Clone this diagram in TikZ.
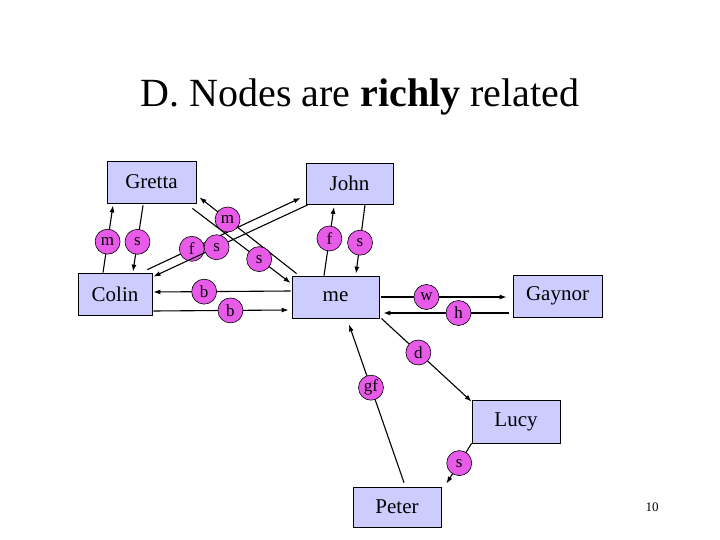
\documentclass[tikz,border=0pt]{standalone}
\usepackage{fontspec}
\setmainfont{Liberation Serif}
\usetikzlibrary{calc,arrows.meta}
\definecolor{boxfill}{RGB}{204,204,255}
\definecolor{labfill}{RGB}{232,90,232}
\begin{document}
\begin{tikzpicture}[x=1pt,y=-1pt,
  person/.style={draw,fill=boxfill,line width=0.8pt,inner sep=0pt,font=\fontsize{21}{21}\selectfont},
  lab/.style={circle,draw,fill=labfill,line width=0.6pt,inner sep=0pt,minimum size=25pt,font=\fontsize{17}{17}\selectfont},
  rel/.style={line width=1.1pt,-{Latex[length=7pt,width=5pt]}}]
\useasboundingbox (0,0) rectangle (720,540);
\node at (360,97) {\fontsize{40}{40}\selectfont D. Nodes are \textbf{richly} related};
\node[font=\fontsize{13}{13}\selectfont] at (652,507) {10};

\node[person,minimum width=89pt,minimum height=42pt] (gretta) at (151.5,182) {Gretta};
\node[person,minimum width=87pt,minimum height=41pt] (john) at (349.5,183.5) {John};
\node[person,minimum width=74pt,minimum height=42pt] (colin) at (115,294) {Colin};
\node[person,minimum width=87pt,minimum height=42pt] (me) at (335.5,297) {me};
\node[person,minimum width=89pt,minimum height=42pt] (gaynor) at (557.5,296) {Gaynor};
\node[person,minimum width=88pt,minimum height=43pt] (lucy) at (516,421.5) {Lucy};
\node[person,minimum width=88pt,minimum height=40pt] (peter) at (397,507) {Peter};

\draw[rel] ($(colin.north)+(-12,0)$) -- node[lab,pos=0.46] {m} ($(gretta.south)+(-38.5,2)$);
\draw[rel] ($(gretta.south)+(-8.5,2)$) -- node[lab,pos=0.55] {s} ($(colin.north)+(18,-1)$);
\draw[rel] ($(colin.north east)+(-5,-3)$) -- node[lab,pos=0.29] {f} ($(john.south west)+(-5,-6.5)$);
\draw[rel] ($(john.south west)+(2,0.5)$) -- node[lab,pos=0.59] {s} ($(colin.north east)+(1,4)$);
\draw[rel] ($(me.north west)+(5,-2)$) -- node[lab,pos=0.71] {m} ($(gretta.south east)+(3,-6)$);
\draw[rel] ($(gretta.south east)+(-4,5)$) -- node[lab,pos=0.68] {s} ($(me.west)+(-1,-14)$);
\draw[rel] ($(me.west)+(-1,-6)$) -- node[lab,pos=0.63] {b} ($(colin.east)+(1,-2)$);
\draw[rel] ($(colin.east)+(1,17)$) -- node[lab,pos=0.57] {b} ($(me.west)+(-3,13)$);
\draw[rel] ($(me.north)+(-11.5,0)$) -- node[lab,pos=0.54] {f} ($(john.south)+(-15.5,2.5)$);
\draw[rel] ($(john.south)+(15.5,0.5)$) -- node[lab,pos=0.55] {s} ($(me.north)+(20.5,-2)$);
\draw[rel] ($(me.east)+(2,0)$) -- node[lab,pos=0.36] {w} ($(gaynor.west)+(-6,1)$);
\draw[rel] ($(gaynor.west)+(-4,17)$) -- node[lab,pos=0.4] {h} ($(me.east)+(4,16)$);
\draw[rel] ($(me.south east)+(2,0)$) -- node[lab,pos=0.41] {d} ($(lucy.north west)+(0,2)$);
\draw[rel] ($(peter.north)+(7,-4)$) -- node[lab,pos=0.6] {gf} ($(me.south)+(13.5,6)$);
\draw[rel] (lucy.south west) -- node[lab,pos=0.49] {s} ($(peter.north east)+(5,-3)$);
\end{tikzpicture}
\end{document}
